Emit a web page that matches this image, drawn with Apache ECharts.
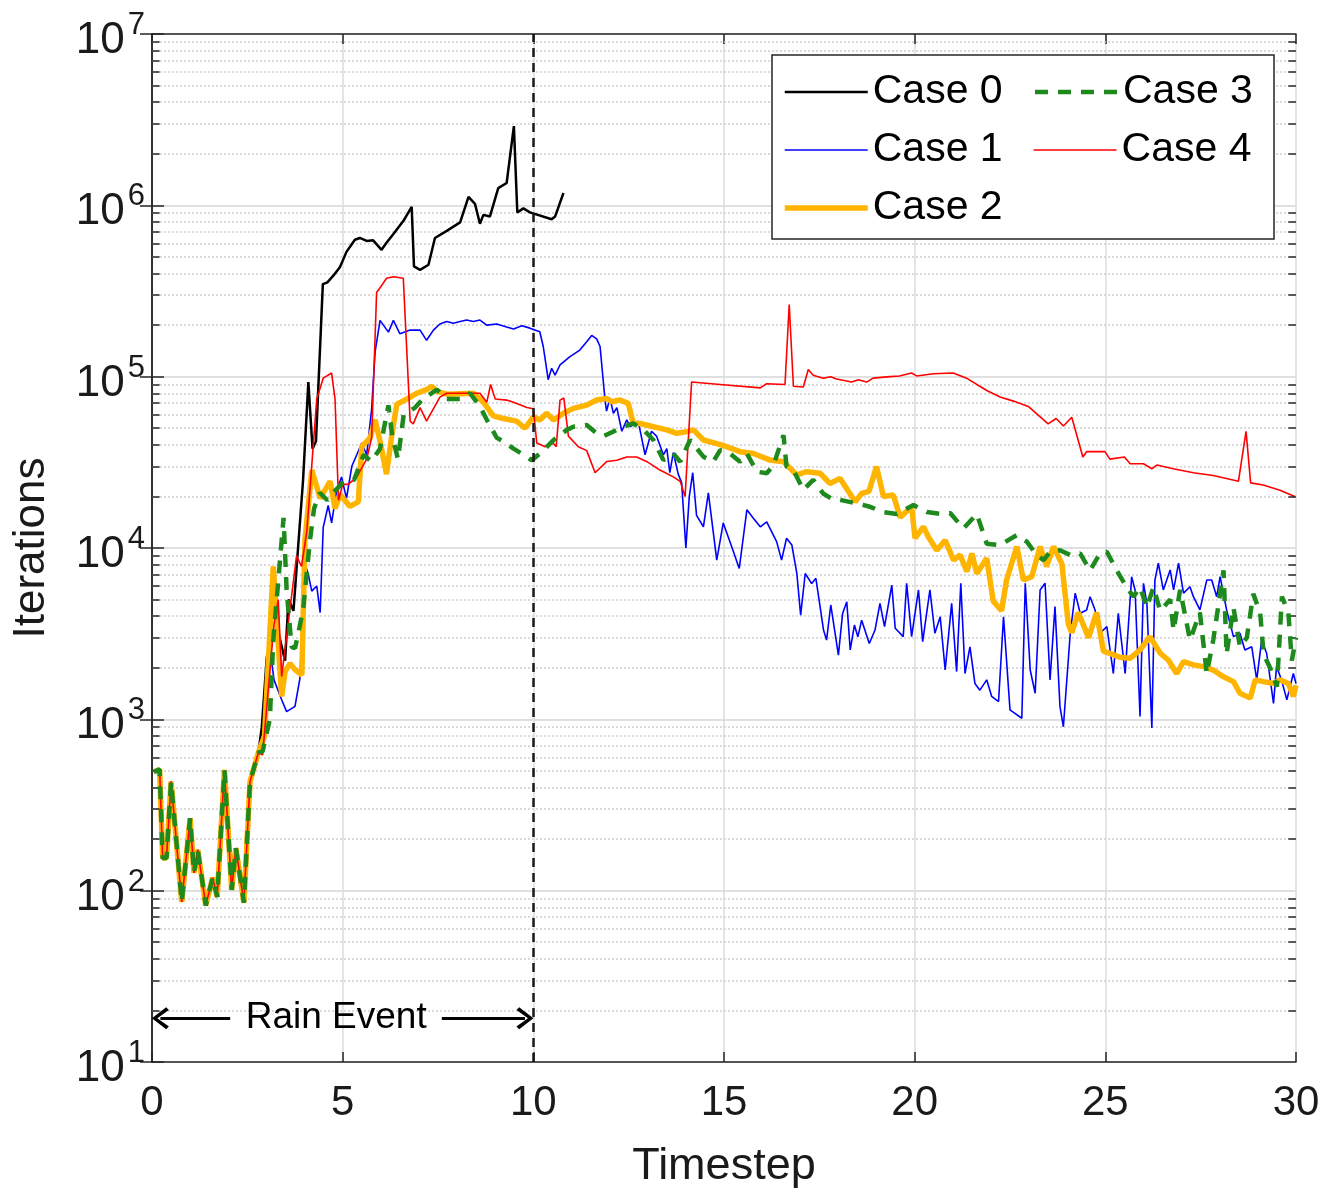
<!DOCTYPE html>
<html>
<head>
<meta charset="utf-8">
<script src="https://cdn.jsdelivr.net/npm/echarts@6.0.0/dist/echarts.min.js"></script>
<style>
html,body{margin:0;padding:0;background:#fff;}
#chart{width:1340px;height:1201px;}
</style>
</head>
<body>
<div id="chart"></div>
<script>
// timestep / iteration samples
var commonStart = [[0.05,494],[0.2,510],[0.28,155],[0.38,155],[0.5,433],[0.78,86],[1.0,265],[1.1,127],[1.2,173],[1.41,82],[1.59,119],[1.71,92],[1.9,506],[2.09,101],[2.2,177],[2.41,85],[2.57,433],[2.79,640]];

var case0Tail = [[2.88,900],[3.01,2300],[3.15,3000],[3.3,3300],[3.49,2200],[3.58,5000],[3.71,4300],[3.83,10000],[3.96,24600],[4.1,93000],[4.21,38000],[4.3,42000],[4.48,347000],[4.6,355000],[4.76,390000],[4.93,437000],[5.1,535000],[5.32,630000],[5.45,645000],[5.63,620000],[5.8,625000],[6.02,550000],[6.15,605000],[6.33,680000],[6.59,810000],[6.81,980000],[6.87,440000],[7.03,420000],[7.25,450000],[7.42,645000],[7.73,710000],[8.08,795000],[8.3,1120000],[8.47,1020000],[8.6,780000],[8.69,880000],[8.86,860000],[9.08,1260000],[9.3,1350000],[9.49,2900000],[9.58,910000],[9.74,960000],[9.91,910000],[10.48,830000],[10.57,860000],[10.79,1180000]];

var case1Tail = [[2.95,900],[3.1,2500],[3.2,1700],[3.4,1300],[3.53,1110],[3.75,1190],[3.88,1740],[4.01,8100],[4.1,7000],[4.19,5600],[4.32,6000],[4.41,4200],[4.49,13200],[4.62,17700],[4.71,14000],[4.84,21500],[4.97,26000],[5.1,19500],[5.24,30000],[5.37,35000],[5.5,41000],[5.63,35000],[5.76,65000],[5.85,139000],[5.98,213000],[6.2,182000],[6.33,213000],[6.5,178000],[6.77,187000],[7.03,187000],[7.2,163000],[7.38,187000],[7.55,203000],[7.73,210000],[7.9,205000],[8.08,210000],[8.25,214000],[8.43,210000],[8.6,214000],[8.78,200000],[9.04,203000],[9.3,195000],[9.48,190000],[9.7,198000],[9.91,192000],[10.17,183000],[10.26,150000],[10.39,96000],[10.48,112000],[10.57,102000],[10.7,117000],[10.96,131000],[11.22,143000],[11.4,160000],[11.53,174000],[11.66,166000],[11.75,150000],[11.88,73000],[11.92,63000],[12.01,75000],[12.1,61000],[12.19,66000],[12.32,48000],[12.45,56000],[12.54,51000],[12.75,55000],[12.93,35000],[13.1,48000],[13.23,45000],[13.41,35000],[13.5,38000],[13.58,27500],[13.67,36000],[13.8,27000],[13.89,24000],[14.0,10000],[14.09,20000],[14.18,27500],[14.28,15500],[14.46,13300],[14.59,21000],[14.81,8500],[14.98,14000],[15.2,10200],[15.4,7600],[15.6,16700],[15.77,14900],[15.95,13300],[16.12,14200],[16.38,10900],[16.51,8500],[16.64,11400],[16.78,10400],[16.91,7100],[17.01,4060],[17.13,7100],[17.3,6200],[17.41,6650],[17.61,3320],[17.69,2900],[17.8,4650],[18.0,2370],[18.11,4150],[18.22,4850],[18.31,2540],[18.42,3550],[18.51,3030],[18.61,3790],[18.81,2770],[18.96,3320],[19.09,4750],[19.21,3480],[19.4,6080],[19.49,3400],[19.7,3040],[19.79,6220],[19.92,3040],[20.1,5690],[20.21,2840],[20.4,5690],[20.53,3180],[20.67,3970],[20.8,1940],[20.97,4750],[21.1,1900],[21.21,6220],[21.32,1850],[21.45,2650],[21.58,1620],[21.71,1480],[21.89,1700],[22.02,1360],[22.2,1270],[22.33,3970],[22.5,1135],[22.81,1015],[22.9,6220],[23.03,1940],[23.16,1420],[23.29,5690],[23.42,6220],[23.55,1700],[23.68,4550],[23.81,1190],[23.9,905],[24.08,3180],[24.21,5450],[24.34,4160],[24.51,4350],[24.6,5200],[24.73,4350],[24.86,3180],[25.04,3475],[25.21,1850],[25.34,4160],[25.52,1850],[25.69,6800],[25.78,5690],[25.91,1040],[26.0,6220],[26.09,4750],[26.22,890],[26.3,6500],[26.39,8150],[26.52,5690],[26.7,7450],[26.79,5690],[26.92,8150],[27.05,5450],[27.22,5940],[27.31,5200],[27.48,4350],[27.66,6500],[27.79,6500],[27.92,5200],[28.01,6800],[28.18,4350],[28.36,3040],[28.53,3180],[28.66,2540],[28.84,2650],[28.97,1700],[29.1,2900],[29.23,2430],[29.41,1240],[29.49,2030],[29.62,1700],[29.76,1300],[29.93,1850],[30.0,1620]];

var case2Tail = [[2.95,800],[3.18,7800],[3.3,3000],[3.4,1360],[3.49,1900],[3.62,2120],[3.75,1950],[3.93,1815],[4.01,11000],[4.19,28500],[4.41,19500],[4.67,24500],[4.8,17000],[4.93,20500],[5.19,17500],[5.41,18600],[5.5,39000],[5.72,44000],[5.85,56000],[5.98,42000],[6.15,27000],[6.29,46000],[6.42,69000],[6.68,74000],[6.94,80000],[7.2,84000],[7.33,88000],[7.47,82000],[7.73,79000],[8.43,80000],[8.69,71000],[8.95,59000],[9.21,57000],[9.56,55000],[9.78,50000],[10.0,58300],[10.17,55800],[10.35,61100],[10.53,55800],[10.79,61100],[11.05,65300],[11.4,68200],[11.66,73100],[11.92,74600],[12.06,71400],[12.27,73100],[12.49,69800],[12.62,53300],[12.8,53300],[13.15,51000],[13.5,48900],[13.76,46700],[14.02,47800],[14.2,48900],[14.46,42700],[14.81,40700],[15.07,39000],[15.42,36500],[15.77,35600],[16.21,32600],[16.56,31900],[16.91,26700],[17.17,27900],[17.52,27300],[17.78,23800],[18.04,25500],[18.44,18600],[18.61,20800],[18.8,21400],[19.0,29900],[19.18,20000],[19.44,20400],[19.62,15100],[19.92,17400],[20.01,11400],[20.23,13300],[20.36,11600],[20.58,9700],[20.8,11100],[21.02,8500],[21.19,9100],[21.37,7300],[21.5,9300],[21.63,7100],[21.89,8700],[22.06,4900],[22.28,4300],[22.41,6500],[22.68,10200],[22.85,6500],[23.07,6800],[23.29,10200],[23.46,7800],[23.64,10200],[23.86,8100],[24.03,3600],[24.12,3200],[24.29,4200],[24.56,3000],[24.77,4200],[24.95,2500],[25.17,2400],[25.39,2300],[25.65,2270],[25.91,2540],[26.17,3040],[26.44,2430],[26.65,2220],[26.87,1850],[27.05,2170],[27.31,2080],[27.57,2030],[27.83,1940],[28.1,1770],[28.36,1660],[28.53,1420],[28.8,1330],[28.93,1700],[29.15,1660],[29.41,1620],[29.58,1700],[29.8,1620],[29.93,1360],[30,1580]];

var case3Tail = [[2.9,650],[3.09,1000],[3.18,2900],[3.3,6000],[3.45,15000],[3.53,5700],[3.66,2650],[3.75,2600],[3.84,3200],[3.97,4500],[4.14,11000],[4.25,17000],[4.4,21000],[4.6,19000],[4.75,21000],[5.0,24000],[5.3,25000],[5.55,35000],[5.75,32000],[5.98,38000],[6.2,68000],[6.3,45000],[6.45,33000],[6.6,60000],[6.9,66000],[7.1,74000],[7.47,84000],[7.73,74000],[8.08,74000],[8.34,80000],[8.6,67000],[8.78,56000],[9.04,44000],[9.21,42000],[9.48,38000],[9.74,35000],[9.96,32500],[10.26,37000],[10.53,42700],[10.88,48900],[11.05,51000],[11.4,52200],[11.66,46700],[11.84,45000],[12.19,48900],[12.36,51000],[12.62,53300],[12.89,48900],[13.15,42700],[13.41,32600],[13.67,35600],[13.85,31900],[14.11,42700],[14.46,34100],[14.72,31900],[14.9,37300],[15.16,35600],[15.42,31900],[15.6,35600],[15.86,27900],[16.12,27300],[16.3,30500],[16.56,45600],[16.64,29900],[16.82,28500],[17.08,21800],[17.34,25000],[17.6,20800],[17.87,19100],[18.04,19100],[18.48,18200],[18.83,17400],[19.18,16200],[19.53,15800],[19.97,17800],[20.32,16200],[20.67,15800],[20.93,16000],[21.28,13000],[21.63,15800],[21.89,10600],[22.24,10400],[22.68,11900],[22.94,10900],[23.2,9100],[23.38,8500],[23.55,9500],[23.81,9700],[24.08,9100],[24.34,9300],[24.6,7400],[24.86,9300],[25.04,9500],[25.3,7400],[25.56,5900],[25.74,5200],[25.91,5900],[26.09,4500],[26.26,5900],[26.44,4300],[26.7,5000],[26.79,3300],[26.96,5700],[27.22,2900],[27.48,4200],[27.66,1850],[27.83,2900],[28.1,7400],[28.18,2400],[28.36,4500],[28.53,2650],[28.71,3000],[28.88,5400],[29.06,4200],[29.15,2400],[29.32,2000],[29.5,1550],[29.63,5200],[29.8,4200],[29.89,2200],[30.0,3000]];

var case4Tail = [[2.9,620],[3.05,1500],[3.2,3600],[3.31,5000],[3.4,1780],[3.57,3600],[3.79,9000],[3.92,7800],[4.06,12500],[4.32,74000],[4.49,98000],[4.71,105000],[4.8,74000],[4.89,19000],[5.0,23500],[5.15,23500],[5.37,26000],[5.63,33000],[5.76,44000],[5.89,310000],[5.98,330000],[6.15,375000],[6.33,383000],[6.59,375000],[6.77,55000],[6.85,53000],[7.03,66000],[7.2,55000],[7.55,76000],[7.73,80000],[8.6,80000],[8.78,71000],[8.88,90000],[9.0,74000],[9.3,73000],[9.48,71000],[9.83,66000],[10.0,65000],[10.09,41000],[10.31,39000],[10.52,41000],[10.6,39000],[10.7,73000],[10.8,75000],[10.92,45000],[11.18,39000],[11.4,37000],[11.62,27500],[11.93,32000],[12.19,32500],[12.45,34000],[12.71,34000],[12.97,32000],[13.32,28500],[13.67,26000],[13.85,24500],[13.98,20000],[14.15,93000],[14.9,90000],[15.95,86000],[16.12,91000],[16.6,90000],[16.71,264000],[16.82,88000],[17.08,87000],[17.21,110000],[17.34,102000],[17.6,98000],[17.8,100000],[17.95,97000],[18.35,93000],[18.52,96000],[18.74,93000],[18.91,98000],[19.35,100000],[19.6,101000],[19.92,105000],[20.05,101000],[20.49,104000],[21.01,105000],[21.36,98000],[21.89,83000],[22.24,76000],[22.59,72000],[22.98,67000],[23.5,53000],[23.71,57000],[23.9,51500],[24.12,58000],[24.41,34000],[24.51,36500],[24.99,36500],[25.12,33000],[25.5,34000],[25.65,31000],[26.0,31000],[26.22,29000],[26.35,30500],[26.78,29000],[27.31,27500],[27.83,26500],[28.49,24500],[28.69,48000],[28.81,24000],[29.14,23300],[29.58,21700],[29.97,20000]];

var legendOrder = ['Case 0', 'Case 3', 'Case 1', 'Case 4', 'Case 2'];
var xTicks = [0, 5, 10, 15, 20, 25, 30];
var decades = [1, 2, 3, 4, 5, 6];      // minor grid between 10^d and 10^(d+1)
var minorSteps = [2, 3, 4, 5, 6, 7, 8, 9];
var rainEnd = 10;
var rainLevel = 18;

var FONT = 'Liberation Sans, Arial, sans-serif';

// minor log gridlines + inside minor ticks
var minorLines = [], minorTicks = [];
decades.forEach(function (d) {
    minorSteps.forEach(function (k) {
        var v = k * Math.pow(10, d);
        minorLines.push([{coord: [0, v]}, {coord: [30, v]}]);
        minorTicks.push([{coord: [0, v]}, {coord: [0.2, v]}]);
        minorTicks.push([{coord: [29.8, v]}, {coord: [30, v]}]);
    });
});

var chevron = 'path://M10,0 L20,13 L17.5,15.5 L10,5 L2.5,15.5 L0,13 Z';

var myChart = echarts.init(document.getElementById('chart'));

option = {
    backgroundColor: '#fff',
    animation: false,
    grid: {left: 152, right: 44, top: 34, bottom: 139},
    legend: {
        data: legendOrder,
        left: 772, top: 55,
        width: 490,
        orient: 'horizontal',
        padding: [14, 3, 8, 10],
        itemGap: 12,
        itemWidth: 83, itemHeight: 14,
        backgroundColor: '#fff',
        borderColor: '#262626', borderWidth: 1.5, borderRadius: 0,
        itemStyle: {color: 'rgba(0,0,0,0)', borderWidth: 0, opacity: 0},
        lineStyle: {width: 'inherit', type: 'inherit'},
        textStyle: {fontSize: 41, fontFamily: FONT, color: '#000', width: 148, lineHeight: 46}
    },
    xAxis: [{
        type: 'value', min: 0, max: 30, interval: 5,
        name: 'Timestep', nameLocation: 'middle', nameGap: 82,
        nameTextStyle: {fontSize: 45, fontFamily: FONT, color: '#1a1a1a'},
        axisLine: {lineStyle: {color: '#262626', width: 1.5}},
        axisTick: {inside: true, length: 10, lineStyle: {color: '#262626', width: 1.5}},
        axisLabel: {fontSize: 42, fontFamily: FONT, color: '#1a1a1a', margin: 20,
            formatter: function (v) { return xTicks.indexOf(v) >= 0 ? String(v) : ''; }},
        splitLine: {show: true, lineStyle: {color: '#dcdcdc', width: 1.5}}
    }, {
        type: 'value', min: 0, max: 30, interval: 5, position: 'top',
        axisLine: {lineStyle: {color: '#262626', width: 1.5}},
        axisTick: {inside: true, length: 10, lineStyle: {color: '#262626', width: 1.5}},
        axisLabel: {show: false}, splitLine: {show: false}
    }],
    yAxis: [{
        type: 'log', logBase: 10, min: 10, max: 1e7,
        name: 'Iterations', nameLocation: 'middle', nameGap: 98,
        nameTextStyle: {fontSize: 44, fontFamily: FONT, color: '#1a1a1a'},
        axisLine: {lineStyle: {color: '#262626', width: 1.5}},
        axisTick: {inside: true, length: 12, lineStyle: {color: '#262626', width: 1.5}},
        axisLabel: {
            margin: 7,
            formatter: function (v) { return '{b|10}{e|' + Math.round(Math.log10(v)) + '}'; },
            rich: {
                b: {fontSize: 44, fontFamily: FONT, color: '#1a1a1a', lineHeight: 48, padding: [14, 0, 0, 0]},
                e: {fontSize: 31, fontFamily: FONT, color: '#1a1a1a', lineHeight: 22, verticalAlign: 'top', padding: [0, 0, 0, 3]}
            }
        },
        splitLine: {show: true, lineStyle: {color: '#d6d6d6', width: 1.5}}
    }, {
        type: 'log', logBase: 10, min: 10, max: 1e7, position: 'right',
        axisLine: {lineStyle: {color: '#262626', width: 1.5}},
        axisTick: {inside: true, length: 12, lineStyle: {color: '#262626', width: 1.5}},
        axisLabel: {show: false}, splitLine: {show: false}
    }],
    series: [
        {
            name: '_grid', type: 'line', data: [], silent: true,
            markLine: {
                silent: true, symbol: 'none', z: 1, animation: false,
                label: {show: false},
                lineStyle: {color: '#cfcfcf', type: [2, 2], width: 1.5},
                data: minorLines
            }
        },
        {
            name: '_ticks', type: 'line', data: [], silent: true,
            markLine: {
                silent: true, symbol: 'none', z: 6, animation: false,
                label: {show: false},
                lineStyle: {color: '#262626', type: 'solid', width: 1.5},
                data: minorTicks
            }
        },
        {
            name: 'Case 0', type: 'line', symbol: 'none', z: 2,
            data: commonStart.concat(case0Tail),
            lineStyle: {color: '#000', width: 2.5}, itemStyle: {color: '#000'},
            markLine: {
                silent: true, symbol: 'none', z: 7, animation: false,
                label: {show: false},
                lineStyle: {color: '#1a1a1a', type: [9, 6], width: 2.5},
                data: [{xAxis: rainEnd}]
            }
        },
        {
            name: 'Case 1', type: 'line', symbol: 'none', z: 3,
            data: commonStart.concat(case1Tail),
            lineStyle: {color: '#0000ff', width: 1.6}, itemStyle: {color: '#0000ff'}
        },
        {
            name: 'Case 2', type: 'line', symbol: 'none', z: 4,
            data: commonStart.concat(case2Tail),
            lineStyle: {color: '#ffb400', width: 5.5}, itemStyle: {color: '#ffb400'}
        },
        {
            name: 'Case 4', type: 'line', symbol: 'none', z: 5,
            data: commonStart.concat(case4Tail),
            lineStyle: {color: '#ff0000', width: 1.6}, itemStyle: {color: '#ff0000'}
        },
        {
            name: 'Case 3', type: 'line', symbol: 'none', z: 6,
            data: commonStart.concat(case3Tail),
            lineStyle: {color: '#1e8a1e', width: 4.5, type: [13, 10]}, itemStyle: {color: '#1e8a1e'}
        },
        {
            name: '_rain', type: 'line', data: [], silent: true,
            markLine: {
                silent: true, z: 8, animation: false,
                symbol: [chevron, chevron], symbolSize: [22, 17],
                label: {show: false},
                lineStyle: {color: '#000', type: 'solid', width: 3},
                data: [
                    [{coord: [0.22, rainLevel]}, {coord: [2.05, rainLevel], symbol: 'none'}],
                    [{coord: [7.6, rainLevel], symbol: 'none'}, {coord: [rainEnd - 0.22, rainLevel]}]
                ]
            },
            markPoint: {
                silent: true, z: 8, animation: false,
                symbol: 'circle', symbolSize: 1, itemStyle: {color: 'rgba(0,0,0,0)'},
                label: {show: true, position: 'inside', formatter: 'Rain Event',
                    fontSize: 37, fontFamily: FONT, color: '#000'},
                data: [{coord: [4.83, rainLevel]}]
            }
        }
    ]
};

myChart.setOption(option);
</script>
</body>
</html>
